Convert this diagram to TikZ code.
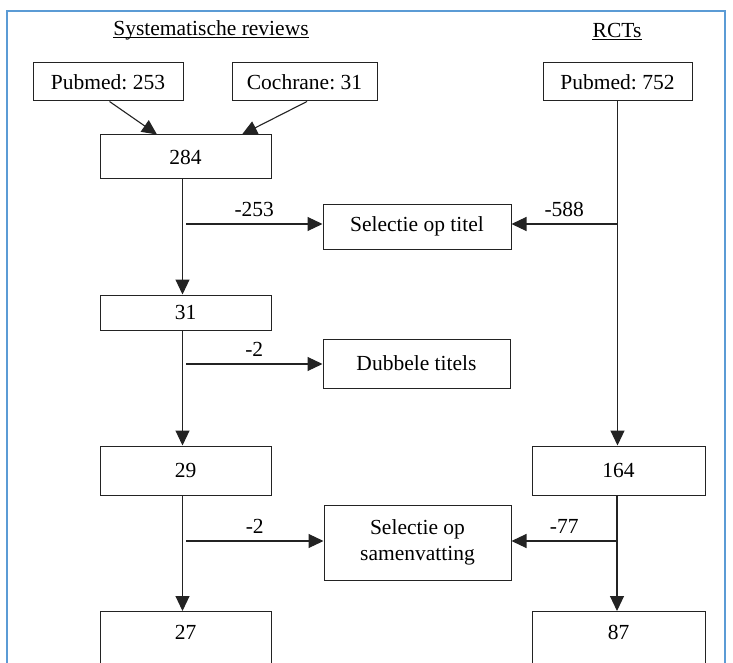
\documentclass[tikz,border=0pt]{standalone}
\usepackage{fontspec}
\setmainfont{Liberation Serif}
\usetikzlibrary{arrows.meta}
\newcommand{\myfs}{\fontsize{21.5}{24}\selectfont\frenchspacing}
\definecolor{framecol}{RGB}{91,155,213}
\definecolor{linecol}{RGB}{35,35,35}
\begin{document}
\begin{tikzpicture}[x=1pt,y=-1pt,
  box/.style={draw=linecol, line width=1pt, inner sep=0pt, font=\myfs, align=center},
  arr/.style={draw=linecol, line width=1.1pt, -{Triangle[length=15pt,width=14pt]}},
  lbl/.style={font=\myfs, inner sep=0pt},
  ttl/.style={font=\myfs, inner sep=0pt},
  uline/.style={draw=black, line width=0.9pt}]
\clip (0,0) rectangle (733,663);
\useasboundingbox (0,0) rectangle (733,663);
\fill[white] (0,0) rectangle (733,663);
% frame
\draw[framecol, line width=1.5pt] (7,11) rectangle (725,720);
% titles
\node[ttl] (t1) at (211,30) {Systematische reviews};
\node[ttl] (t2) at (617,30) {RCTs};
\draw[uline] ([yshift=-2.5pt]t1.base west) -- ([yshift=-2.5pt]t1.base east);
\draw[uline] ([yshift=-2.5pt]t2.base west) -- ([yshift=-2.5pt]t2.base east);
% boxes
\node[box, minimum width=150, minimum height=38] (pm1) at (108,82) {Pubmed: 253};
\node[box, minimum width=145, minimum height=38] (co) at (304.5,82) {Cochrane: 31};
\node[box, minimum width=149, minimum height=38] (pm2) at (617.5,82) {Pubmed: 752};
\node[box, minimum width=171, minimum height=44] (n284) at (185.5,157) {284};
\node[box, minimum width=188, minimum height=45] (sel1) at (417,226.5) {Selectie op titel};
\node[box, minimum width=171, minimum height=35] (n31) at (185.5,312.5) {31};
\node[box, minimum width=187, minimum height=49] (dub) at (416.5,363.5) {Dubbele titels};
\node[box, minimum width=171, minimum height=49] (n29) at (185.5,470.5) {29};
\node[box, minimum width=173, minimum height=49] (n164) at (618.5,470.5) {164};
\node[box, minimum width=187, minimum height=75] (sel2) at (417.5,542.5) {Selectie op\\[2pt]samenvatting};
\node[box, anchor=north, minimum width=171, text height=28pt, text depth=45pt] (n27) at (185.5,611) {27};
\node[box, anchor=north, minimum width=173, text height=28pt, text depth=45pt] (n87) at (618.5,611) {87};
% input arrows
\draw[arr] ([xshift=77pt]pm1.south west) -- ([xshift=-28.5pt]n284.north);
\draw[arr] ([xshift=2.5pt]co.south) -- ([xshift=56.5pt]n284.north);
% left column
\draw[arr] ([xshift=-3pt]n284.south) -- ([xshift=-3pt]n31.north);
\draw[arr] ([xshift=-3pt]n31.south) -- ([xshift=-3pt]n29.north);
\draw[arr] ([xshift=-3pt]n29.south) -- ([xshift=-3pt]n27.north);
% right column
\draw[arr] (pm2.south) -- (pm2.south |- n164.north);
\draw[arr] ([xshift=-1.5pt]n164.south) -- ([xshift=-1.5pt]n87.north);
% branch arrows
\coordinate (b1) at (186,224);
\coordinate (r1) at (617,224);
\coordinate (b2) at (186,364);
\coordinate (b3) at (186,541);
\coordinate (r3) at (617,541);
\draw[arr] (b1) -- (b1 -| sel1.west) node[lbl, midway, above=7pt] (l1) {-253};
\draw[arr] (r1) -- (r1 -| sel1.east) node[lbl, midway, above=7pt] (l2) {-588};
\draw[arr] (b2) -- (b2 -| dub.west) node[lbl, midway, above=7pt] (l3) {-2};
\draw[arr] (b3) -- (b3 -| sel2.west) node[lbl, midway, above=7pt] (l4) {-2};
\draw[arr] (r3) -- (r3 -| sel2.east) node[lbl, midway, above=7pt] (l5) {-77};
\end{tikzpicture}
\end{document}
